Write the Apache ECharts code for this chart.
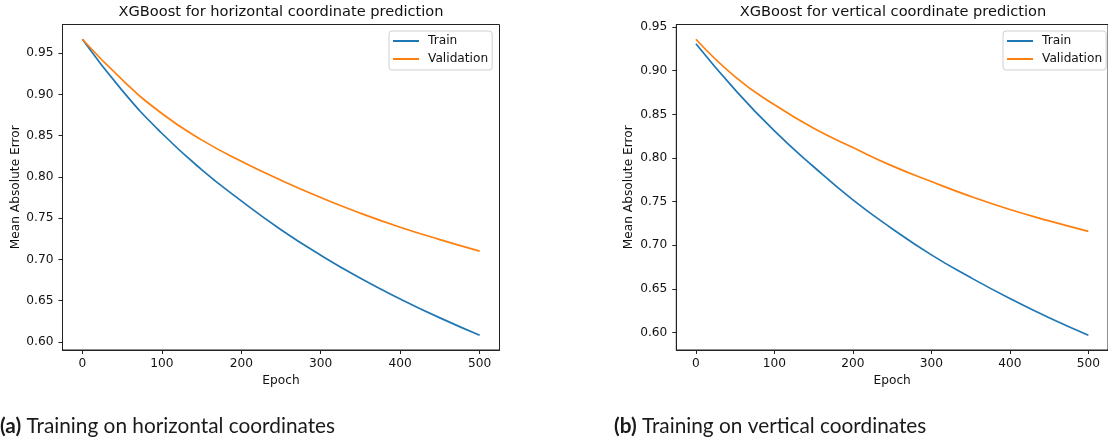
<!DOCTYPE html>
<html>
<head>
<meta charset="utf-8">
<script src="https://cdn.jsdelivr.net/npm/echarts@6/dist/echarts.min.js"></script>
<style>
html,body{margin:0;padding:0;background:#fff;}
#chart{width:1108px;height:443px;}
</style>
</head>
<body>
<div id="chart"></div>
<script>
// ---- data ----
const epochs = [0, 50, 100, 150, 200, 250, 300, 350, 400, 450, 500];
const horizTrain = [0.967, 0.905, 0.853, 0.809, 0.771, 0.736, 0.705, 0.677, 0.652, 0.629, 0.608];
const horizVal   = [0.967, 0.918, 0.877, 0.845, 0.819, 0.796, 0.775, 0.756, 0.739, 0.724, 0.710];
const vertTrain  = [0.931, 0.878, 0.831, 0.790, 0.752, 0.719, 0.689, 0.663, 0.639, 0.617, 0.597];
const vertVal    = [0.936, 0.893, 0.861, 0.834, 0.812, 0.791, 0.773, 0.756, 0.741, 0.728, 0.716];
const xTicks = [0, 100, 200, 300, 400, 500];
const yTicksLeft  = [0.60, 0.65, 0.70, 0.75, 0.80, 0.85, 0.90, 0.95];
const yTicksRight = [0.60, 0.65, 0.70, 0.75, 0.80, 0.85, 0.90, 0.95];
const titles = ['XGBoost for horizontal coordinate prediction', 'XGBoost for vertical coordinate prediction'];
const captions = [['(a)', 'Training on horizontal coordinates'], ['(b)', 'Training on vertical coordinates']];
const seriesNames = ['Train', 'Validation'];

const pairs = (xs, ys) => xs.map((x, i) => [x, ys[i]]);
function margins(arrs) {
  const all = [].concat(...arrs);
  const mn = Math.min(...all), mx = Math.max(...all), r = mx - mn;
  return [mn - 0.05 * r, mx + 0.05 * r];
}
const [yL0, yL1] = margins([horizTrain, horizVal]);
const [yR0, yR1] = margins([vertTrain, vertVal]);
const [x0, x1] = margins([epochs]);

const FONT = 'DejaVu Sans';
const FS = 12.2;
const C_TRAIN = '#1f77b4', C_VAL = '#ff7f0e';
const spine = '#222';

function xAxisCfg(gi) {
  return {
    type: 'value', gridIndex: gi, min: x0, max: x1,
    name: 'Epoch', nameLocation: 'middle', nameGap: 25,
    nameTextStyle: {fontFamily: FONT, fontSize: FS, color: '#111'},
    axisLine: {show: true, onZero: false, lineStyle: {color: spine, width: 1}},
    axisTick: {show: true, length: 4, lineStyle: {color: spine, width: 1}, customValues: xTicks},
    axisLabel: {fontFamily: FONT, fontSize: FS, color: '#111', margin: 8, customValues: xTicks,
      formatter: v => String(v)},
    splitLine: {show: false}
  };
}
function yAxisCfg(gi, mn, mx, ticks) {
  return {
    type: 'value', gridIndex: gi, min: mn, max: mx,
    name: 'Mean Absolute Error', nameLocation: 'middle', nameGap: 41,
    nameTextStyle: {fontFamily: FONT, fontSize: FS, color: '#111'},
    axisLine: {show: true, onZero: false, lineStyle: {color: spine, width: 1}},
    axisTick: {show: true, length: 4, lineStyle: {color: spine, width: 1}, customValues: ticks},
    axisLabel: {fontFamily: FONT, fontSize: FS, color: '#111', margin: 9, customValues: ticks,
      formatter: v => v.toFixed(2)},
    splitLine: {show: false}
  };
}
function legendCfg(left) {
  return {
    left: left, top: 31, orient: 'vertical',
    data: seriesNames.map(n => ({name: n, icon: 'rect'})),
    itemWidth: 26, itemHeight: 2, itemGap: 4,
    padding: [3, 4, 4, 4],
    borderColor: '#d0d0d0', borderWidth: 1, borderRadius: 3,
    backgroundColor: 'rgba(255,255,255,0.8)',
    textStyle: {fontFamily: FONT, fontSize: FS, color: '#111', lineHeight: 14, padding: [0, 0, 0, 4]},
    selectedMode: false
  };
}
function lineSeries(name, data, color, gi) {
  return {
    type: 'line', name: name, xAxisIndex: gi, yAxisIndex: gi,
    data: data, smooth: true, showSymbol: false, symbol: 'none',
    lineStyle: {color: color, width: 1.7}, itemStyle: {color: color},
    animation: false, silent: true
  };
}
function captionCfg(cap, left) {
  return {
    text: '{b|' + cap[0] + '} ' + cap[1], left: left, top: 416, padding: 0,
    textStyle: {fontFamily: 'Lato', fontSize: 20.8, fontWeight: 'normal', color: '#1a1a1a',
      rich: {b: {fontFamily: 'Lato', fontSize: 20.8, fontWeight: 'bold', color: '#1a1a1a'}}}
  };
}

const chart = echarts.init(document.getElementById('chart'), null, {renderer: 'canvas'});
chart.setOption({
  backgroundColor: '#fff',
  animation: false,
  title: [
    {text: titles[0], left: 281, top: 5, textAlign: 'center', padding: 0,
      textStyle: {fontFamily: FONT, fontSize: 14.6, fontWeight: 'normal', color: '#111'}},
    {text: titles[1], left: 893, top: 5, textAlign: 'center', padding: 0,
      textStyle: {fontFamily: FONT, fontSize: 14.6, fontWeight: 'normal', color: '#111'}},
    captionCfg(captions[0], 0),
    captionCfg(captions[1], 614)
  ],
  legend: [legendCfg(389), legendCfg(1003)],
  grid: [
    {left: 62.5, top: 24.5, width: 437, height: 325.5, show: true, borderColor: spine, borderWidth: 1, backgroundColor: 'transparent'},
    {left: 676.3, top: 24.5, width: 438, height: 325.5, show: true, borderColor: spine, borderWidth: 1, backgroundColor: 'transparent'}
  ],
  xAxis: [xAxisCfg(0), xAxisCfg(1)],
  yAxis: [yAxisCfg(0, yL0, yL1, yTicksLeft), yAxisCfg(1, yR0, yR1, yTicksRight)],
  series: [
    lineSeries(seriesNames[0], pairs(epochs, horizTrain), C_TRAIN, 0),
    lineSeries(seriesNames[1], pairs(epochs, horizVal), C_VAL, 0),
    lineSeries(seriesNames[0], pairs(epochs, vertTrain), C_TRAIN, 1),
    lineSeries(seriesNames[1], pairs(epochs, vertVal), C_VAL, 1)
  ]
});
</script>
</body>
</html>
